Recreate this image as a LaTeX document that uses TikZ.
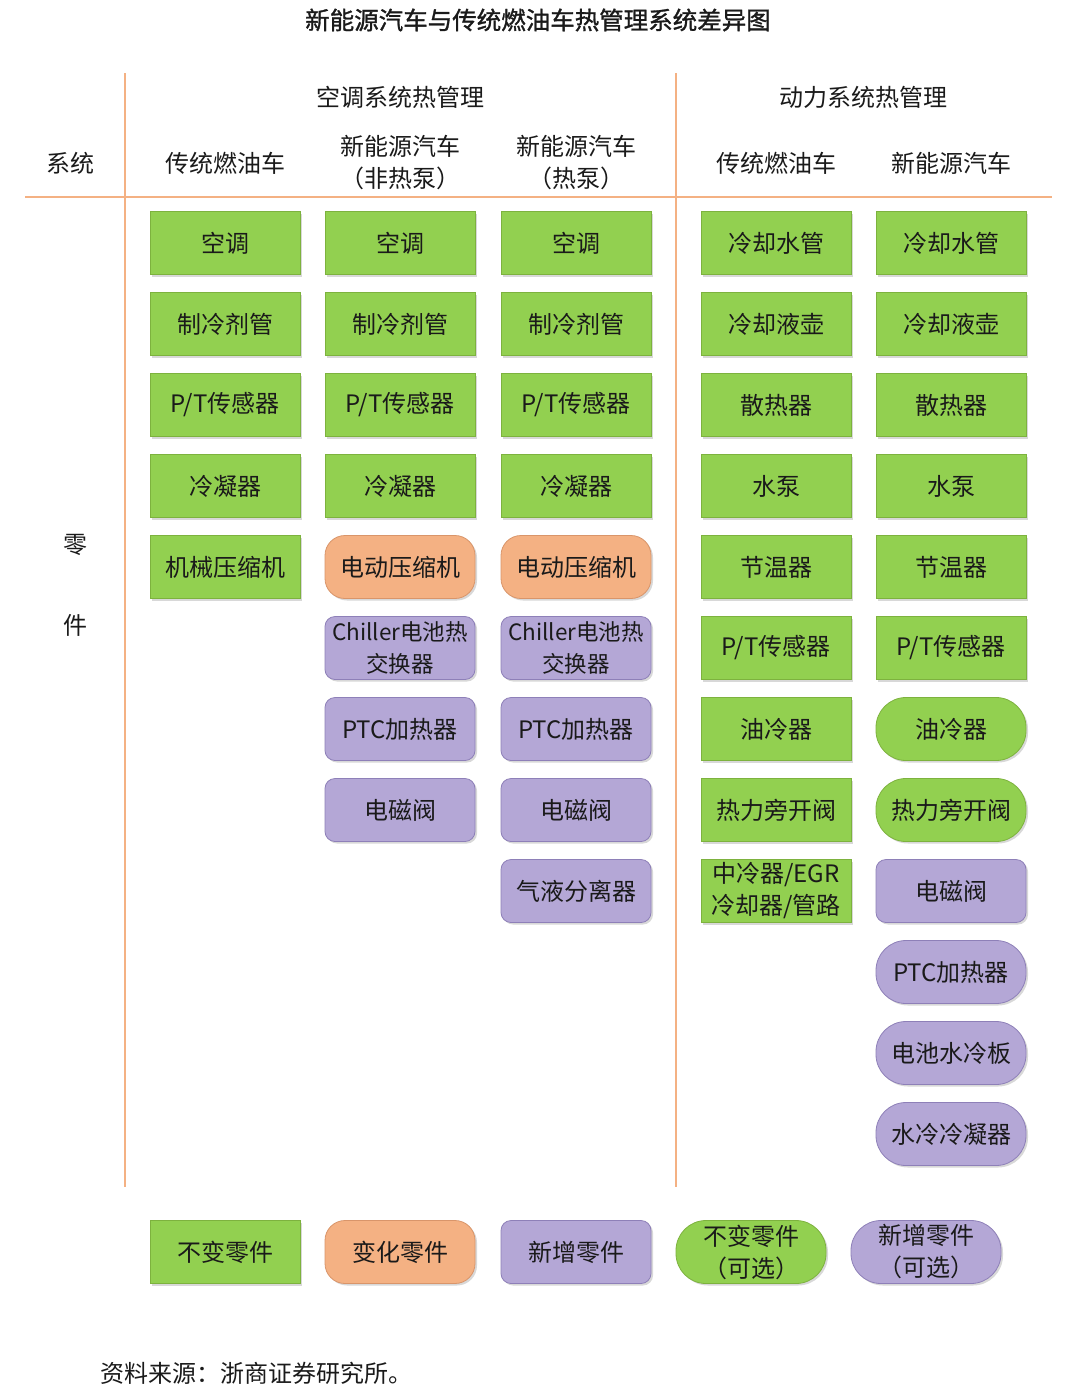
\documentclass[tikz,border=0pt]{standalone}
\usepackage{fontspec}
\setmainfont{Noto Sans CJK SC}
\newfontfamily\titlefont[FakeBold=1.2]{Noto Sans CJK SC}
\usetikzlibrary{shadows}
\definecolor{gfill}{HTML}{92D050}
\definecolor{gline}{HTML}{7DB23E}
\definecolor{ofill}{HTML}{F4B183}
\definecolor{oline}{HTML}{D9956A}
\definecolor{pfill}{HTML}{B4A7D6}
\definecolor{pline}{HTML}{8E80B8}
\definecolor{rule}{HTML}{F4B183}
\definecolor{txt}{HTML}{1A1A1A}
\begin{document}
\begin{tikzpicture}[x=1pt,y=-1pt,
  every node/.style={text=txt,font=\fontsize{24}{32}\selectfont},
  part/.style={minimum width=150pt,minimum height=63pt,inner sep=0pt,align=center,line width=0.8pt,
    drop shadow={shadow xshift=2pt,shadow yshift=-2pt,opacity=0.25,fill=black!60}},
  gbox/.style={part,fill=gfill,draw=gline},
  gpill/.style={part,fill=gfill,draw=gline,rounded corners=30pt},
  obox/.style={part,fill=ofill,draw=oline,rounded corners=20pt},
  pbox/.style={part,fill=pfill,draw=pline,rounded corners=10pt},
  ppill/.style={part,fill=pfill,draw=pline,rounded corners=30pt},
  narrow/.style={font=\fontsize{22.5}{32}\selectfont},
  hdr/.style={align=center,font=\fontsize{24}{32}\selectfont},
  rulestyle/.style={draw=rule,line width=1.3pt}]
\useasboundingbox (0,0) rectangle (1080,1395);
\fill[white] (0,0) rectangle (1080,1395);
% title
\node[font=\titlefont\fontsize{24.5}{28}\selectfont] (title) at (538,20) {新能源汽车与传统燃油车热管理系统差异图};
% grid lines
\coordinate (v1t) at (125,73); \coordinate (v1b) at (125,1187);
\coordinate (v2t) at (676,73); \coordinate (v2b) at (676,1187);
\coordinate (hl) at (25,197); \coordinate (hr) at (1052,197);
\draw[rulestyle] (v1t) -- (v1b);
\draw[rulestyle] (v2t) -- (v2b);
\draw[rulestyle] (hl) -- (hr);
% headers
\node[hdr] (hac) at (400,97) {空调系统热管理};
\node[hdr] (hpw) at (863,97) {动力系统热管理};
\node[hdr] (hsys) at (70,163) {系统};
\node[hdr] (h1) at (225,163) {传统燃油车};
\node[hdr] (h2) at (400,163) {新能源汽车\\（非热泵）};
\node[hdr] (h3) at (576,163) {新能源汽车\\（热泵）};
\node[hdr] (h4) at (776,163) {传统燃油车};
\node[hdr] (h5) at (951,163) {新能源汽车};
\node[hdr] (hl1) at (75,545) {零};
\node[hdr] (hl2) at (75,625) {件};
% column 1
\node[gbox] (a1) at (225,243) {空调};
\node[gbox] (a2) at (225,324) {制冷剂管};
\node[gbox] (a3) at (225,405) {P/T传感器};
\node[gbox] (a4) at (225,486) {冷凝器};
\node[gbox] (a5) at (225,567) {机械压缩机};
% column 2
\node[gbox] (b1) at (400,243) {空调};
\node[gbox] (b2) at (400,324) {制冷剂管};
\node[gbox] (b3) at (400,405) {P/T传感器};
\node[gbox] (b4) at (400,486) {冷凝器};
\node[obox] (b5) at (400,567) {电动压缩机};
\node[pbox,narrow] (b6) at (400,648) {Chiller电池热\\交换器};
\node[pbox] (b7) at (400,729) {PTC加热器};
\node[pbox] (b8) at (400,810) {电磁阀};
% column 3
\node[gbox] (c1) at (576,243) {空调};
\node[gbox] (c2) at (576,324) {制冷剂管};
\node[gbox] (c3) at (576,405) {P/T传感器};
\node[gbox] (c4) at (576,486) {冷凝器};
\node[obox] (c5) at (576,567) {电动压缩机};
\node[pbox,narrow] (c6) at (576,648) {Chiller电池热\\交换器};
\node[pbox] (c7) at (576,729) {PTC加热器};
\node[pbox] (c8) at (576,810) {电磁阀};
\node[pbox] (c9) at (576,891) {气液分离器};
% column 4
\node[gbox] (d1) at (776,243) {冷却水管};
\node[gbox] (d2) at (776,324) {冷却液壶};
\node[gbox] (d3) at (776,405) {散热器};
\node[gbox] (d4) at (776,486) {水泵};
\node[gbox] (d5) at (776,567) {节温器};
\node[gbox] (d6) at (776,648) {P/T传感器};
\node[gbox] (d7) at (776,729) {油冷器};
\node[gbox] (d8) at (776,810) {热力旁开阀};
\node[gbox] (d9) at (776,891) {中冷器/EGR\\冷却器/管路};
% column 5
\node[gbox] (e1) at (951,243) {冷却水管};
\node[gbox] (e2) at (951,324) {冷却液壶};
\node[gbox] (e3) at (951,405) {散热器};
\node[gbox] (e4) at (951,486) {水泵};
\node[gbox] (e5) at (951,567) {节温器};
\node[gbox] (e6) at (951,648) {P/T传感器};
\node[gpill] (e7) at (951,729) {油冷器};
\node[gpill] (e8) at (951,810) {热力旁开阀};
\node[pbox] (e9) at (951,891) {电磁阀};
\node[ppill] (e10) at (951,972) {PTC加热器};
\node[ppill] (e11) at (951,1053) {电池水冷板};
\node[ppill] (e12) at (951,1134) {水冷冷凝器};
% legend
\node[gbox] (l1) at (225,1252) {不变零件};
\node[obox] (l2) at (400,1252) {变化零件};
\node[pbox] (l3) at (576,1252) {新增零件};
\node[gpill] (l4) at (751,1252) {不变零件\\（可选）};
\node[ppill] (l5) at (926,1252) {新增零件\\（可选）};
% source
\node[anchor=west] (src) at (97,1373) {资料来源：浙商证券研究所。};
\end{tikzpicture}
\end{document}
